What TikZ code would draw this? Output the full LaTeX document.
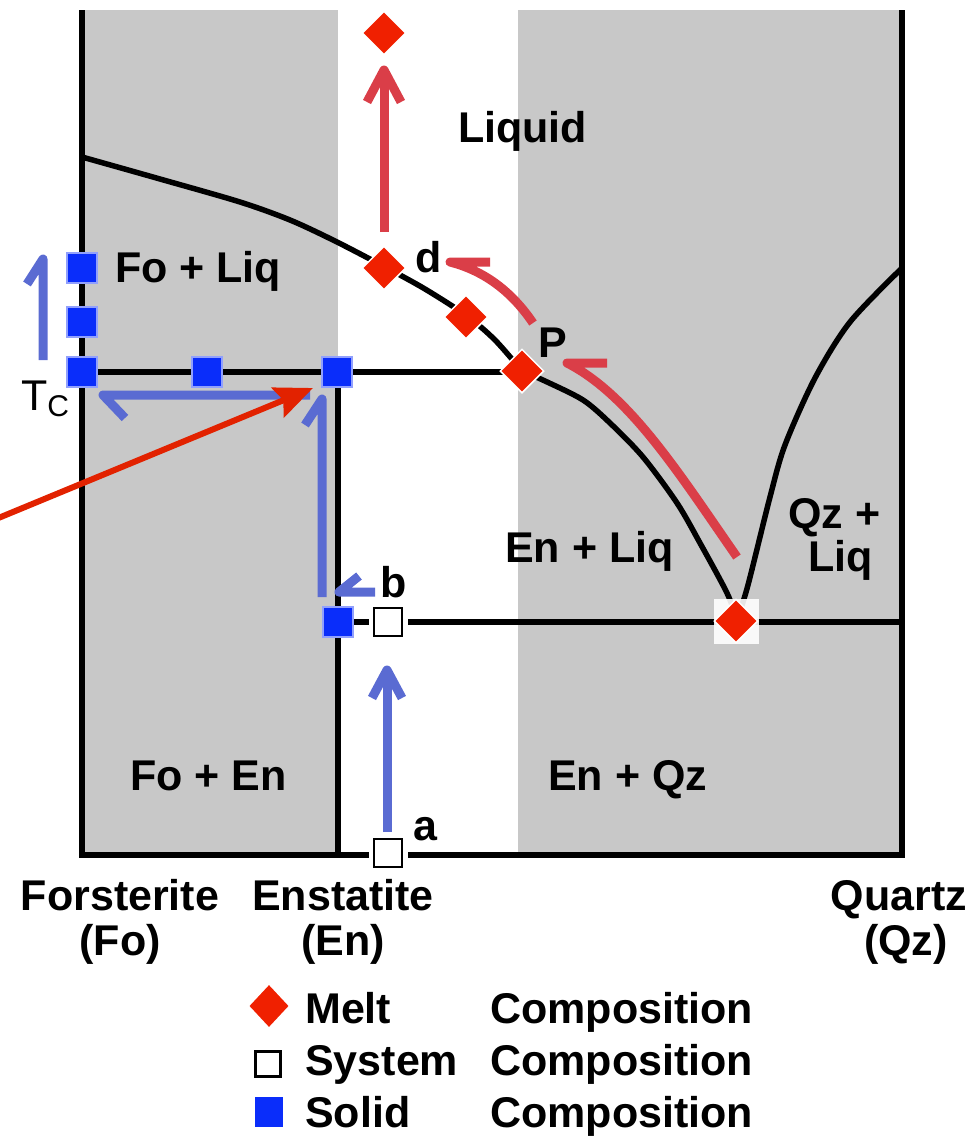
\documentclass[tikz,border=0pt]{standalone}
\usepackage{fontspec}
\setmainfont{Liberation Sans}
\usetikzlibrary{arrows.meta,shapes.geometric}
\definecolor{bggray}{RGB}{200,200,200}
\definecolor{meltred}{RGB}{240,32,0}
\definecolor{arrred}{RGB}{218,62,72}
\definecolor{ptrred}{RGB}{226,34,0}
\definecolor{solidblue}{RGB}{10,45,250}
\definecolor{arrblue}{RGB}{90,107,210}
\tikzset{
  region/.style={fill=bggray, draw=none},
  axisline/.style={line width=6pt, black},
  phaseline/.style={line width=5.5pt, black, line join=round},
  melt/.style={diamond, fill=meltred, draw=white, line width=1.5pt, minimum width=44pt, minimum height=44pt, inner sep=0pt},
  solidbox/.style={rectangle, fill=solidblue, draw=solidblue!45!white, line width=2pt, minimum size=30pt, inner sep=0pt},
  sysbox/.style={rectangle, fill=white, draw=black, line width=2.5pt, minimum size=28pt, inner sep=0pt, preaction={draw=white, line width=11pt}},
  redarr/.style={line width=9pt, draw=arrred, line join=round},
  bluearr/.style={line width=9pt, draw=arrblue, line join=round},
  ptr/.style={line width=6pt, draw=ptrred, -{Stealth[length=38pt,width=32pt,inset=6pt]}},
  lbl/.style={font=\fontsize{43}{48}\selectfont\bfseries, inner sep=0pt, anchor=base west},
  lblc/.style={lbl, anchor=base},
}
\begin{document}
\begin{tikzpicture}[x=1pt,y=-1pt]
\useasboundingbox (0,0) rectangle (974,1136);

% regions
\fill[region] (82,10) rectangle (338,855);
\fill[region] (518,10) rectangle (902,855);

% coordinates
\coordinate (TL) at (82,10);
\coordinate (BL) at (82,855);
\coordinate (BR) at (902,855);
\coordinate (TR) at (902,10);
\coordinate (perL) at (82,372);
\coordinate (perR) at (522,372);
\coordinate (enT) at (338,372);
\coordinate (enB) at (338,855);
\coordinate (eutL) at (338,622);
\coordinate (eutR) at (902,622);

% axes
\draw[axisline] (TL) -- (BL) -- (BR) -- (TR);

% phase lines
\draw[phaseline] (perL) -- (perR);
\draw[phaseline] (enT) -- (enB);
\draw[phaseline] (eutL) -- (eutR);
\draw[phaseline] plot[smooth] coordinates {(82,157) (160,179) (240,202) (290,220) (335,241) (385,267) (425,289) (467,316) (495,340) (522,371)};
\draw[phaseline] plot[smooth] coordinates {(522,371) (545,381) (583,400) (610,423) (643,457) (677,503) (700,543) (727,593) (737,620)};
\draw[phaseline] plot[smooth] coordinates {(737,620) (748,585) (770,497) (785,445) (815,378) (850,322) (902,268)};

% blue arrows
\coordinate (b1s) at (43,360); \coordinate (b1t) at (43,259);
\draw[bluearr] (b1s) -- (b1t) -- ++(-16,25);
\coordinate (b2s) at (310,395); \coordinate (b2t) at (103,395);
\draw[bluearr] (b2s) -- (b2t) -- ++(22,23);
\coordinate (b3s) at (322,597); \coordinate (b3t) at (322,399);
\draw[bluearr] (b3s) -- (b3t) -- ++(-17,26);
\coordinate (b4s) at (375,592); \coordinate (b4t) at (339,592);
\draw[bluearr] (b4s) -- (b4t) -- ++(20,-16);
\coordinate (b5s) at (387,832); \coordinate (b5t) at (387,670);
\draw[bluearr] (b5s) -- (b5t);
\draw[bluearr] ([xshift=-15pt,yshift=-28pt]b5t) -- (b5t) -- ([xshift=15pt,yshift=-28pt]b5t);

% red arrows
\coordinate (r1s) at (384,232); \coordinate (r1t) at (384,70);
\draw[redarr] (r1s) -- (r1t);
\draw[redarr] ([xshift=-17pt,yshift=-32pt]r1t) -- (r1t) -- ([xshift=17pt,yshift=-32pt]r1t);
\coordinate (r2s) at (533,323); \coordinate (r2t) at (450,262);
\draw[redarr] (r2s) .. controls (512,292) and (485,271) .. (r2t) -- ++(40,0);
\coordinate (r3s) at (737,557); \coordinate (r3t) at (567,363);
\draw[redarr] (r3s) .. controls (680,475) and (630,395) .. (r3t) -- ++(40,0);

% solid compositions
\node[solidbox] (s1) at (82,268) {};
\node[solidbox] (s2) at (82,322) {};
\node[solidbox] (s3) at (82,372) {};
\node[solidbox] (s4) at (207,372) {};
\node[solidbox] (s5) at (337,372) {};
\node[solidbox] (s6) at (338,622) {};

% system compositions
\node[sysbox] (sa) at (388,853) {};
\node[sysbox] (sb) at (388,622) {};

% melt compositions
\node[melt] (m0) at (384,33) {};
\node[melt] (md) at (384,268) {};
\node[melt] (mm) at (466,317) {};
\node[melt] (mp) at (522,371) {};
\node[fill=white, opacity=0.9, minimum size=45pt, inner sep=0pt] (ebg) at (736,621) {};
\node[melt] (me) at (736,621) {};

% pointer arrow
\coordinate (ptrS) at (-4,519);
\coordinate (ptrT) at (313,388);
\draw[ptr] (ptrS) -- (ptrT);

% labels
\node[lbl] (liq) at (458,142) {Liquid};
\node[lbl] (foliq) at (115,282) {Fo + Liq};
\node[lbl] (enliq) at (505,562) {En + Liq};
\node[lbl] (qz1) at (788,528) {Qz +};
\node[lbl] (qz2) at (808,571) {Liq};
\node[lbl] (foen) at (130,790) {Fo + En};
\node[lbl] (enqz) at (548,790) {En + Qz};
\node[lbl] (la) at (413,840) {a};
\node[lbl] (lb) at (380,597) {b};
\node[lbl] (ld) at (415,272) {d};
\node[lbl] (lp) at (538,357) {P};
\node[lbl, font=\fontsize{43}{48}\selectfont] (tc) at (21,410) {T\raisebox{-6pt}{\fontsize{30}{30}\selectfont C}};

\node[lblc] (fo1) at (120,910) {Forsterite};
\node[lblc] (fo2) at (120,955) {(Fo)};
\node[lblc] (en1) at (343,910) {Enstatite};
\node[lblc] (en2) at (343,955) {(En)};
\node[lblc] (qzA) at (899,910) {Quartz};
\node[lblc] (qzB) at (906,955) {(Qz)};

% legend
\node[melt, minimum width=42pt, minimum height=45pt] (legm) at (269,1006) {};
\node[sysbox, preaction={}, minimum size=25pt] (legs) at (268,1064) {};
\node[solidbox, draw=none, minimum width=28pt, minimum height=30pt] (legso) at (269,1112) {};
\node[lbl] (t1) at (305,1023) {Melt};
\node[lbl] (t2) at (490,1023) {Composition};
\node[lbl] (t3) at (305,1075) {System};
\node[lbl] (t4) at (490,1075) {Composition};
\node[lbl] (t5) at (305,1127) {Solid};
\node[lbl] (t6) at (490,1127) {Composition};
\end{tikzpicture}
\end{document}
